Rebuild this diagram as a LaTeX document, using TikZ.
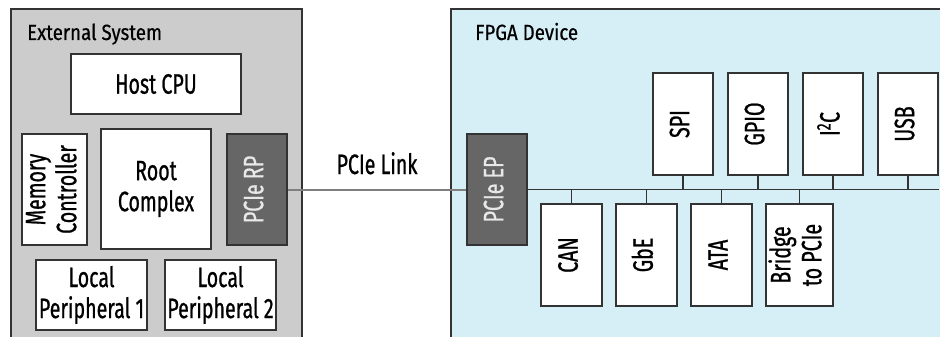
\documentclass[tikz,border=0pt]{standalone}
\usepackage{fontspec}
\setmainfont[FakeStretch=0.7, FakeBold=0.8]{Fira Sans}
\newfontfamily\titlefont[FakeStretch=0.85, FakeBold=0.5]{Fira Sans}
\usepackage{graphicx}
\definecolor{extgray}{HTML}{CCCCCC}
\definecolor{fpgablue}{HTML}{D6EEF5}
\definecolor{darkbox}{HTML}{666666}
\definecolor{edge}{HTML}{333333}
\definecolor{linkgray}{HTML}{7F7F7F}
\definecolor{lighttext}{HTML}{E8E8E8}
\tikzset{
  box/.style={draw=edge, line width=1.1pt, fill=white, inner sep=0pt, align=center,
    font=\fontsize{28}{31}\selectfont},
  darkblock/.style={box, fill=darkbox, text=lighttext},
  title/.style={anchor=base west, inner sep=0pt, font=\titlefont\fontsize{22}{26}\selectfont},
  wire/.style={draw=edge, line width=1.2pt},
}
\newcommand{\vtext}[1]{\rotatebox{90}{\begin{tabular}{@{}c@{}}#1\end{tabular}}}
\begin{document}
\begin{tikzpicture}[x=1pt,y=-1pt]
\clip (0,0) rectangle (940,337);
\fill[white] (0,0) rectangle (940,337);
% outer regions
\draw[draw=edge, line width=1.1pt, fill=extgray] (11,9) rectangle (302,350);
\draw[draw=edge, line width=1.1pt, fill=fpgablue] (451,9) rectangle (960,350);
\node[title] (exttitle) at (27,40) {External System};
\node[title] (fpgatitle) at (475,40) {FPGA Device};
% external system blocks
\node[box, minimum width=170pt, minimum height=60pt] (cpu) at (156,84) {Host CPU};
\node[box, minimum width=65pt, minimum height=111pt] (mem) at (54.5,189.5) {\vtext{Memory\\Controller}};
\node[box, minimum width=110pt, minimum height=120pt] (root) at (156,189) {Root\\Complex};
\node[darkblock, minimum width=60pt, minimum height=111pt] (rp) at (257,189.5) {\vtext{PCIe RP}};
\node[box, minimum width=111pt, minimum height=70pt] (lp1) at (91.5,295) {Local\\Peripheral 1};
\node[box, minimum width=111pt, minimum height=70pt] (lp2) at (220.5,295) {Local\\Peripheral 2};
% FPGA blocks
\node[darkblock, minimum width=60pt, minimum height=111pt] (ep) at (497,189.5) {\vtext{PCIe EP}};
\node[box, minimum width=60pt, minimum height=102pt] (spi) at (683,124) {\vtext{SPI}};
\node[box, minimum width=60pt, minimum height=102pt] (gpio) at (758,124) {\vtext{GPIO}};
\node[box, minimum width=60pt, minimum height=102pt] (i2c) at (833,124) {\vtext{I\textsuperscript{2}C}};
\node[box, minimum width=60pt, minimum height=102pt] (usb) at (908,124) {\vtext{USB}};
\node[box, minimum width=61pt, minimum height=102pt] (can) at (571.5,255) {\vtext{CAN}};
\node[box, minimum width=61pt, minimum height=102pt] (gbe) at (646.5,255) {\vtext{GbE}};
\node[box, minimum width=61pt, minimum height=102pt] (ata) at (721.5,255) {\vtext{ATA}};
\node[box, minimum width=67pt, minimum height=102pt] (bridge) at (799.5,255) {\vtext{Bridge\\to PCIe}};
% link
\draw[draw=linkgray, line width=2pt] (rp.east) -- (ep.west);
\node[inner sep=0pt, anchor=base, font=\fontsize{28}{31}\selectfont] (linklabel) at (377,174) {PCIe Link};
% bus
\coordinate (busend) at (usb.south east |- ep.east);
\draw[wire] (ep.east) -- (busend);
\foreach \n in {spi,gpio,i2c,usb}{\draw[wire] (\n.south) -- (\n.south |- ep.east);}
\foreach \n in {can,gbe,ata,bridge}{\draw[wire] (\n.north) -- (\n.north |- ep.east);}
\end{tikzpicture}
\end{document}
